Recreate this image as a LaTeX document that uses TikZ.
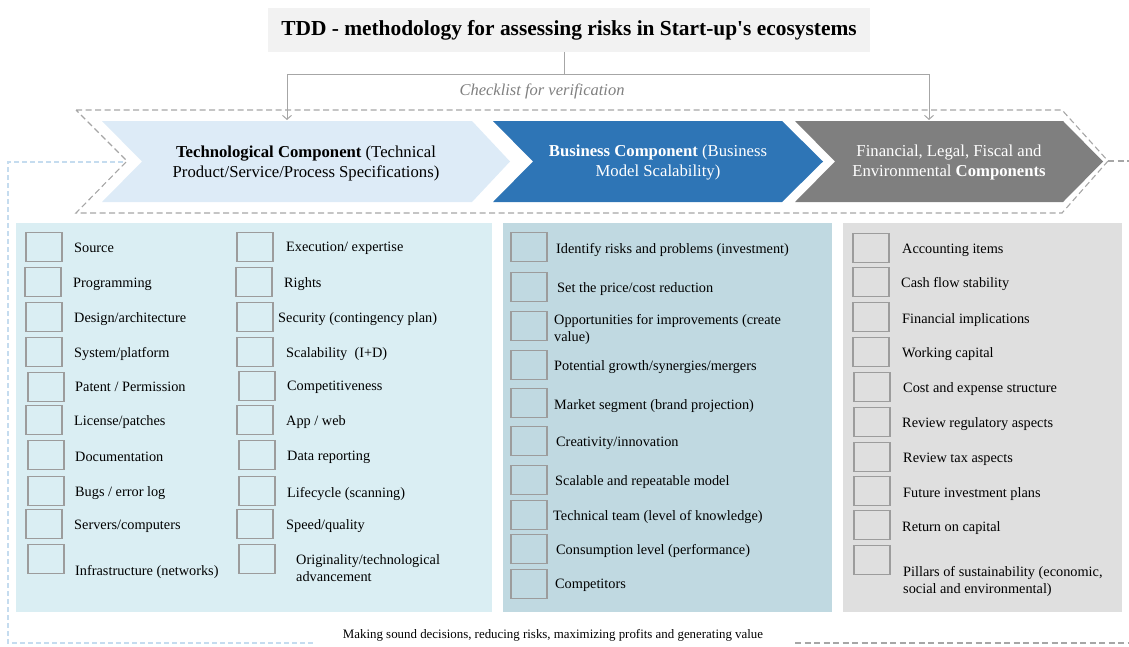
\documentclass[tikz,border=0pt]{standalone}
\usepackage{fontspec}
\setmainfont{Liberation Serif}
\usetikzlibrary{arrows.meta}
\definecolor{titlegray}{HTML}{F2F2F2}
\definecolor{chevA}{HTML}{DDEBF7}
\definecolor{chevB}{HTML}{2E75B6}
\definecolor{chevC}{HTML}{7F7F7F}
\definecolor{panelA}{HTML}{DAEEF3}
\definecolor{panelB}{HTML}{C0D9E1}
\definecolor{panelC}{HTML}{DFDFDF}
\definecolor{boxgray}{HTML}{9C9C9C}
\definecolor{dashgray}{HTML}{A6A6A6}
\definecolor{dashblue}{HTML}{C5DCEF}
\definecolor{conngray}{HTML}{A6A6A6}
\definecolor{checkgray}{HTML}{7F7F7F}
\newcommand\ckrow[6]{%
  \node[ckbox] (b#1) at (#2,#3) {};
  \node[cktext] (t#1) at (#4,#5+1) {#6};}
\begin{document}
\begin{tikzpicture}[x=1pt,y=-1pt,
  ckbox/.style={draw=boxgray, line width=1.1pt, minimum width=36pt, minimum height=29pt, inner sep=0pt},
  cktext/.style={anchor=west, inner sep=0pt, font=\fontsize{14.3}{17}\selectfont, align=left},
  chevtext/.style={align=center, inner sep=0pt, font=\fontsize{16.7}{20}\selectfont},
  conn/.style={draw=conngray, line width=1pt},
  graydash/.style={draw=dashgray, line width=1.1pt, dash pattern=on 6pt off 3.5pt},
  bluedash/.style={draw=dashblue, line width=1.1pt, dash pattern=on 5pt off 3pt}]
\useasboundingbox (0,0) rectangle (1129,646);
% title
\node[fill=titlegray, minimum width=602pt, minimum height=44pt, inner sep=0pt,
      font=\bfseries\fontsize{21.4}{25}\selectfont] (title) at (569,30)
      {TDD - methodology for assessing risks in Start-up\textquotesingle s ecosystems};
% dashed outlines
\draw[bluedash] (123,162) -- (8,162) -- (8,643) -- (313,643);
\draw[graydash] (795,643) -- (1129,643);
\draw[graydash] (76,110) -- (1062,110) -- (1108,161) -- (1062,213) -- (76,213) -- (127,161) -- cycle;
\draw[graydash] (1108,161) -- (1129,161);
% chevrons
\fill[chevA] (102,121) -- (472,121) -- (510,161.5) -- (472,202) -- (102,202) -- (142,161.5) -- cycle;
\fill[chevB] (493,121) -- (782,121) -- (823,161.5) -- (782,202) -- (493,202) -- (533,161.5) -- cycle;
\fill[chevC] (795,121) -- (1063,121) -- (1103,161.5) -- (1063,202) -- (795,202) -- (835,161.5) -- cycle;
\node[chevtext] (tech) at (306,163) {\textbf{Technological Component} (Technical\\Product/Service/Process Specifications)};
\node[chevtext, text=white] (bus) at (658,163) {\textbf{Business Component} (Business\\Model Scalability)};
\node[chevtext, text=white] (fin) at (949,162.5) {Financial, Legal, Fiscal and\\Environmental \textbf{Components}};
% connectors
\coordinate (split) at (564,74);
\coordinate (techtop) at (287,120);
\coordinate (fintop) at (929,120);
\draw[conn] (title.south -| split) -- (split);
\draw[conn, -{Straight Barb[length=4pt,width=9pt]}] (split) -| (techtop);
\draw[conn, -{Straight Barb[length=4pt,width=9pt]}] (split) -| (fintop);
\node[font=\itshape\fontsize{16.5}{20}\selectfont, text=checkgray, inner sep=0pt] (check) at (542,91) {Checklist for verification};
% panels
\fill[panelA] (16,223) rectangle (492,612);
\fill[panelB] (503,223) rectangle (832,612);
\fill[panelC] (843,223) rectangle (1122,612);
% left panel
\ckrow{a1}{44}{247}{74}{247}{Source}
\ckrow{a2}{43}{282}{73}{283}{Programming}
\ckrow{a3}{44}{317}{74}{318}{Design/architecture}
\ckrow{a4}{44}{352}{74}{353}{System/platform}
\ckrow{a5}{46}{387}{75}{386}{Patent / Permission}
\ckrow{a6}{44}{420}{74}{421}{License/patches}
\ckrow{a7}{46}{455}{75}{456}{Documentation}
\ckrow{a8}{46}{491}{75}{492}{Bugs / error log}
\ckrow{a9}{44}{524}{74}{525}{Servers/computers}
\ckrow{a10}{46}{559}{75}{571}{Infrastructure (networks)}
\ckrow{b1}{255}{247}{286}{247}{Execution/ expertise}
\ckrow{b2}{254}{282}{284}{283}{Rights}
\ckrow{b3}{255}{317}{278}{318}{Security (contingency plan)}
\ckrow{b4}{255}{352}{286}{353}{Scalability\ \ (I+D)}
\ckrow{b5}{257}{386}{287}{386}{Competitiveness}
\ckrow{b6}{255}{420}{286}{421}{App / web}
\ckrow{b7}{257}{455}{287}{456}{Data reporting}
\ckrow{b8}{257}{491}{287}{493}{Lifecycle (scanning)}
\ckrow{b9}{255}{524}{286}{525}{Speed/quality}
\ckrow{b10}{257}{559}{296}{567}{Originality/technological\\advancement}
% middle panel
\ckrow{c1}{529}{247}{556}{249}{Identify risks and problems (investment)}
\ckrow{c2}{529}{287}{557}{288}{Set the price/cost reduction}
\ckrow{c3}{529}{326}{554}{328.5}{Opportunities for improvements (create\\value)}
\ckrow{c4}{529}{365}{554}{366}{Potential growth/synergies/mergers}
\ckrow{c5}{529}{403}{554}{405}{Market segment (brand projection)}
\ckrow{c6}{529}{441}{556}{442}{Creativity/innovation}
\ckrow{c7}{529}{480}{555}{481}{Scalable and repeatable model}
\ckrow{c8}{529}{515}{553}{516}{Technical team (level of knowledge)}
\ckrow{c9}{529}{549}{556}{550}{Consumption level (performance)}
\ckrow{c10}{529}{584}{555}{584}{Competitors}
% right panel
\ckrow{d1}{871}{248}{902}{249}{Accounting items}
\ckrow{d2}{871}{282}{901}{283}{Cash flow stability}
\ckrow{d3}{871}{317}{902}{319}{Financial implications}
\ckrow{d4}{871}{352}{902}{353}{Working capital}
\ckrow{d5}{872}{387}{903}{388}{Cost and expense structure}
\ckrow{d6}{872}{422}{902}{423}{Review regulatory aspects}
\ckrow{d7}{872}{457}{903}{458}{Review tax aspects}
\ckrow{d8}{872}{491}{903}{493}{Future investment plans}
\ckrow{d9}{872}{525}{902}{527}{Return on capital}
\ckrow{d10}{872}{560}{903}{580}{Pillars of sustainability (economic,\\social and environmental)}
% bottom text
\node[font=\fontsize{12.9}{15}\selectfont, inner sep=0pt] (bottom) at (553,635) {Making sound decisions, reducing risks, maximizing profits and generating value};
\end{tikzpicture}
\end{document}
